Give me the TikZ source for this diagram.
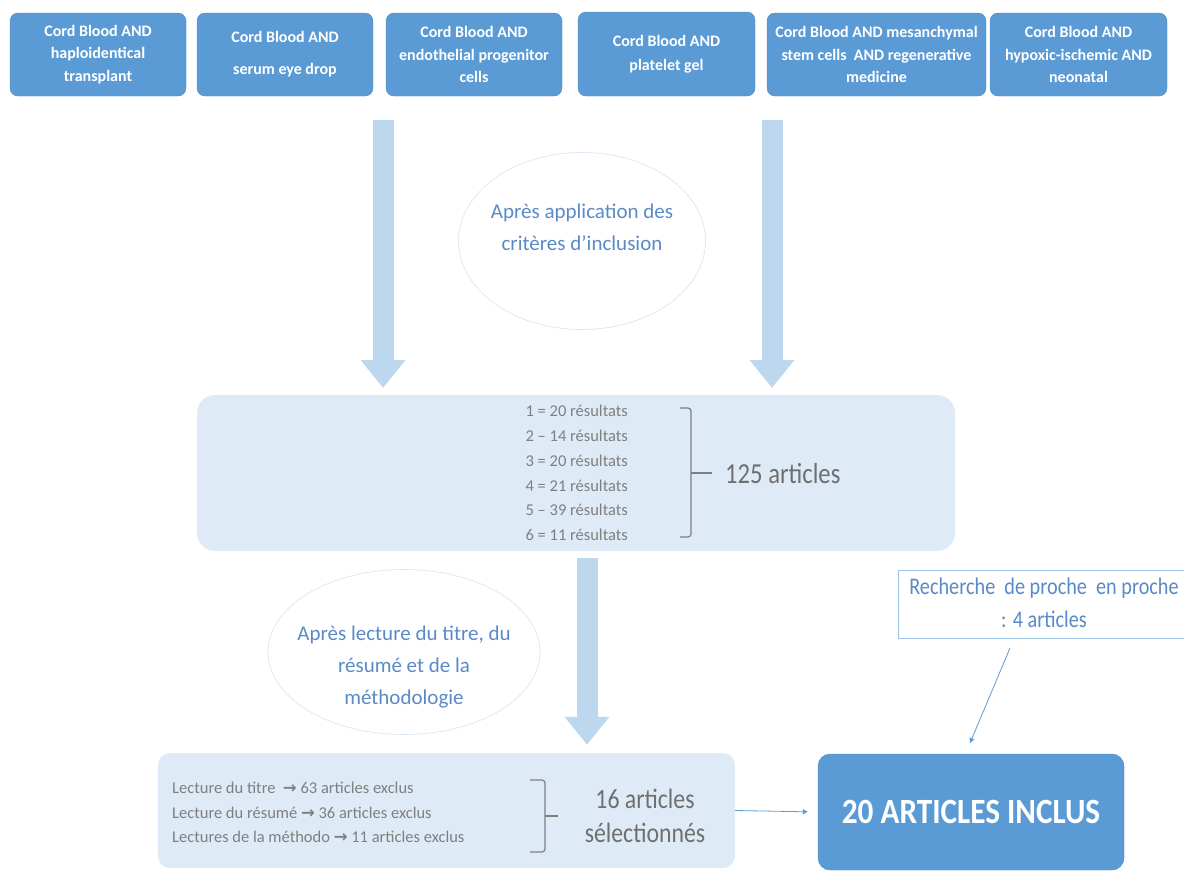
\documentclass[tikz,border=0pt]{standalone}
\usepackage{fontspec}
\setmainfont{Carlito}
\newfontfamily\condensed{Carlito}[FakeStretch=0.85]
\newfontfamily\condensedb{Carlito}[FakeStretch=0.88]
\newfontfamily\dejavu{DejaVu Sans}
\usetikzlibrary{arrows.meta,shapes.geometric,calc}
\definecolor{boxblue}{HTML}{5B9BD5}
\definecolor{lightfill}{HTML}{DEEBF7}
\definecolor{arrowblue}{HTML}{BDD7EE}
\definecolor{txtgray}{HTML}{7F7F7F}
\definecolor{biggray}{HTML}{6F6F6F}
\definecolor{txtblue}{HTML}{5A8AC6}
\definecolor{ellline}{HTML}{DCE8F4}
\newcommand{\rarr}{{\dejavu\bfseries →}}
\tikzset{
  topbox/.style={fill=boxblue, draw=boxblue!90!black, line width=0.4pt, rounded corners=8pt, minimum height=83pt, text=white, align=center, inner sep=2pt, font=\bfseries\fontsize{16}{22.5}\selectfont},
  bigarrow/.style={arrowblue, line width=21pt, -{Triangle[width=43pt,length=28pt]}},
  thinarrow/.style={boxblue, line width=0.8pt, -{Triangle[width=5pt,length=5pt]}},
  ell/.style={ellipse, draw=ellline, line width=0.8pt},
  elltext/.style={text=txtblue, align=center, inner sep=0pt, font=\fontsize{21}{32}\selectfont},
  panel/.style={fill=lightfill, rounded corners=18pt},
  brace/.style={txtgray, line width=1.2pt, rounded corners=3pt},
}
\begin{document}
\begin{tikzpicture}[x=1pt,y=-1pt]
\useasboundingbox (0,0) rectangle (1184,871);
% top boxes
\node[topbox, minimum width=176pt] (b1) at (98,54.5) {Cord Blood AND\\haploidentical\\transplant};
\node[topbox, minimum width=176pt] (b2) at (285,54.5) {Cord Blood AND\\[9.5pt]serum eye drop};
\node[topbox, minimum width=176pt] (b3) at (474,54.5) {Cord Blood AND\\endothelial progenitor\\cells};
\node[topbox, minimum width=177pt, minimum height=84pt] (b4) at (666.5,54) {\raisebox{-2pt}{\begin{tabular}{@{}c@{}}Cord Blood AND\\[1pt]platelet gel\end{tabular}}};
\node[topbox, minimum width=219pt] (b5) at (876.5,54.5) {Cord Blood AND mesanchymal\\stem cells\ \ AND regenerative\\medicine};
\node[topbox, minimum width=177pt] (b6) at (1078.5,54.5) {Cord Blood AND\\hypoxic-ischemic AND\\neonatal};
% middle panel
\node[panel, minimum width=758pt, minimum height=156pt] (mid) at (576,473) {};
\node[anchor=east, align=right, text=txtgray, font=\fontsize{16.5}{24.8}\selectfont, inner sep=0pt] (list) at (628,473)
  {1 = 20 résultats\\2 – 14 résultats\\3 = 20 résultats\\4 = 21 résultats\\5 – 39 résultats\\6 = 11 résultats};
\draw[brace] (680,408) -- (691,408) -- (691,537) -- (680,537);
\draw[brace] (691,473) -- (712,473);
\node[anchor=west, text=biggray, font=\condensed\fontsize{29}{30}\selectfont, inner sep=0pt] (tot) at (725,474) {125 articles};
% ellipse 1
\node[ell, minimum width=247pt, minimum height=177pt] (e1) at (582,241) {};
\node[elltext] (e1t) at (582,227) {Après application des\\critères d’inclusion};
% big arrows to middle
\coordinate (a1s) at (383,120);
\coordinate (a1e) at (383,388);
\coordinate (a2s) at (772,120);
\coordinate (a2e) at (772,388);
\draw[bigarrow] (a1s) -- (a1e);
\draw[bigarrow] (a2s) -- (a2e);
% bottom panel
\node[panel, rounded corners=12pt, minimum width=577pt, minimum height=115pt] (bot) at (446.5,810.5) {};
\node[anchor=west, align=left, text=txtgray, font=\fontsize{16.5}{24.5}\selectfont, inner sep=0pt] (reasons) at (172,812.5)
  {Lecture du titre \ \rarr{} 63 articles exclus\\Lecture du résumé \rarr{} 36 articles exclus\\Lectures de la méthodo \rarr{} 11 articles exclus};
\draw[brace] (530,780) -- (545,780) -- (545,852) -- (530,852);
\draw[brace] (545,816) -- (558,816);
\node[align=center, text=biggray, font=\condensed\fontsize{28}{34}\selectfont, inner sep=0pt] (sel) at (645,816) {16 articles\\sélectionnés};
% ellipse 2
\node[ell, minimum width=272pt, minimum height=165pt] (e2) at (404,652) {};
\node[elltext] (e2t) at (404,667) {Après lecture du titre, du\\résumé et de la\\méthodologie};
% middle arrow
\draw[bigarrow, shorten <=7pt, shorten >=8pt] (mid.south -| 587,0) -- (bot.north -| 587,0);
% final box
\node[topbox, font=\condensedb\bfseries\fontsize{35.5}{40}\selectfont, minimum width=306pt, minimum height=116pt, rounded corners=12pt] (final) at (971,812) {\raisebox{-3pt}{20 ARTICLES INCLUS}};
% recherche box
\node[draw=boxblue!60, line width=0.8pt, fill=white, text=txtblue, align=center, minimum width=292pt, minimum height=68pt, inner sep=0pt, font=\condensed\fontsize{23.8}{33}\selectfont] (rech) at (1044,604) {\raisebox{-2pt}{\begin{tabular}{@{}c@{}}Recherche\ \ de proche\ \ en proche\\[0pt]: 4 articles\end{tabular}}};
\coordinate (r1) at (1010,648);
\coordinate (r2) at (970,743);
\draw[thinarrow] (r1) -- (r2);
\draw[thinarrow, shorten >=10pt] (bot.east) -- (final.west);
\end{tikzpicture}
\end{document}
